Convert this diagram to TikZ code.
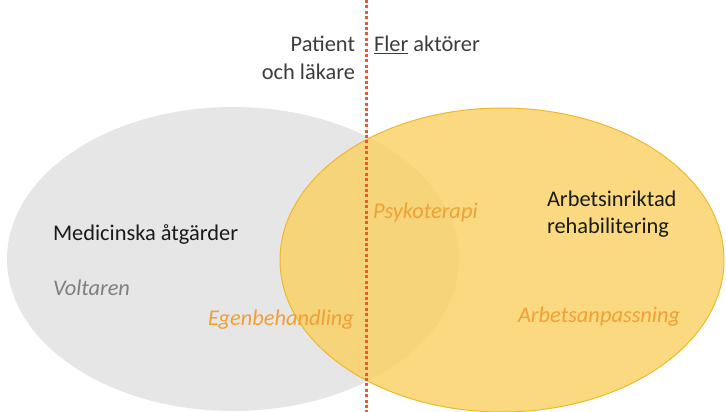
\documentclass[tikz,border=0pt]{standalone}
\usepackage{fontspec}
\setmainfont{Carlito}
\definecolor{ellgray}{HTML}{E6E6E6}
\definecolor{ellyellow}{HTML}{F9D060}
\definecolor{ellborder}{HTML}{F0B828}
\definecolor{txtorange}{HTML}{F0A035}
\definecolor{txtgray}{HTML}{7F7F7F}
\definecolor{txtdark}{HTML}{1A1A1A}
\definecolor{divline}{HTML}{E85A30}
\begin{document}
\begin{tikzpicture}[x=1pt,y=-1pt,
  lbl/.style={font=\fontsize{22.4}{27}\selectfont, inner sep=0pt, outer sep=0pt},
  mainlbl/.style={lbl, text=txtdark},
  examplelbl/.style={lbl, text=txtorange, font=\fontsize{22.4}{27}\selectfont\itshape},
  greylbl/.style={lbl, text=txtgray, font=\fontsize{22.4}{27}\selectfont\itshape},
  headlbl/.style={lbl, text=txtdark!85}
]
\useasboundingbox (0,0) rectangle (726,412);
% ellipses
\fill[ellgray] (233,259) ellipse [x radius=226, y radius=152];
\filldraw[fill=ellyellow, fill opacity=0.8, draw=ellborder, line width=1pt] (502,260) ellipse [x radius=222, y radius=152];
% labels
\node[headlbl, anchor=base east] (pat) at (355,51.5) {Patient};
\node[headlbl, anchor=base east] (och) at (355,80) {och läkare};
\node[headlbl, anchor=base west] (fler) at (374,51.5) {\underline{Fler} aktörer};
\node[mainlbl, anchor=base west] (med) at (53,240) {Medicinska åtgärder};
\node[greylbl, anchor=base west] (volt) at (53,295) {Voltaren};
\node[examplelbl, anchor=base east] (egen) at (354,325) {Egenbehandling};
\node[examplelbl, anchor=base west] (psyk) at (373,218) {Psykoterapi};
\node[mainlbl, anchor=base west] (arb1) at (547,206) {Arbetsinriktad};
\node[mainlbl, anchor=base west] (arb2) at (547,233) {rehabilitering};
\node[examplelbl, anchor=base west] (arbanp) at (518,322) {Arbetsanpassning};
% divider
\coordinate (dtop) at (366,0);
\coordinate (dbot) at (366,412);
\draw[divline, line width=3pt, dash pattern=on 3pt off 2.4pt] (dtop) -- (dbot);
\end{tikzpicture}
\end{document}
